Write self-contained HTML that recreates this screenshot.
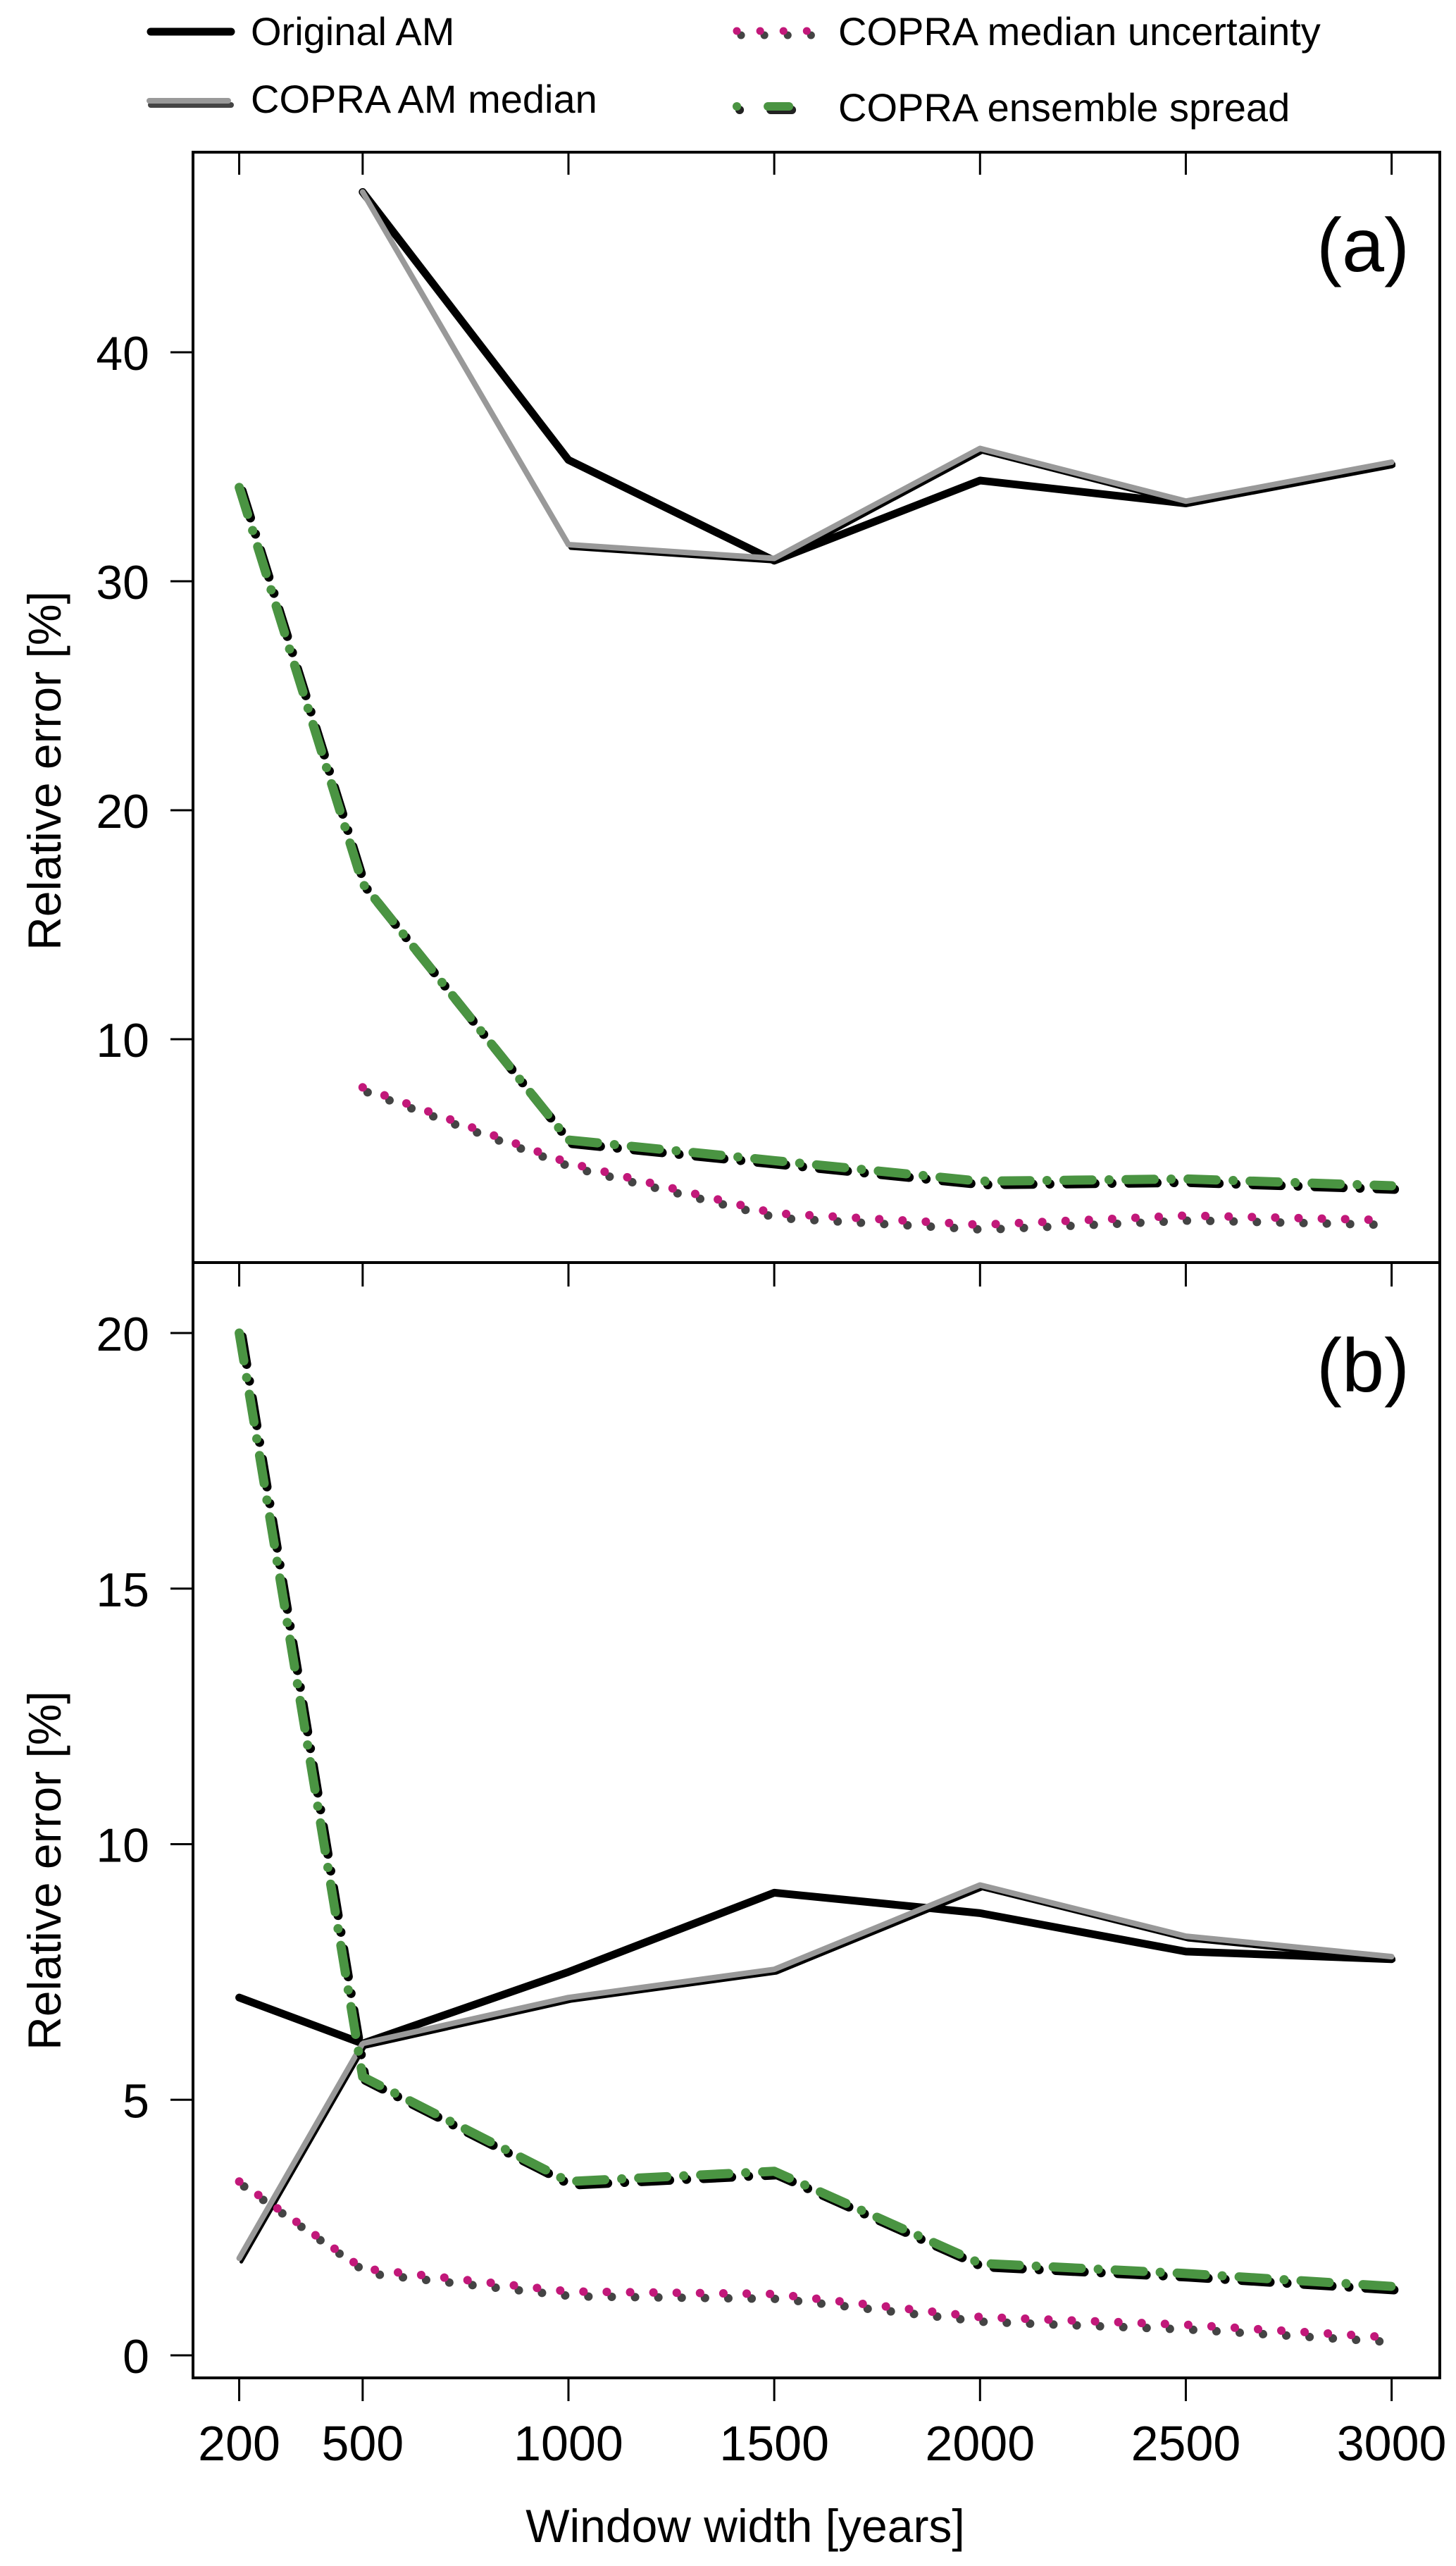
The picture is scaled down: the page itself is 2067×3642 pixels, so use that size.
<!DOCTYPE html>
<html><head><meta charset="utf-8"><style>
html,body{margin:0;padding:0;background:#fff;}
svg{display:block;font-family:"Liberation Sans",sans-serif;}
</style></head><body>
<svg id="chart" width="2067" height="3642" viewBox="0 0 2067 3642" xmlns="http://www.w3.org/2000/svg">
<g id="legend">
  <g>
    <line x1="214" y1="45" x2="328" y2="45" stroke="#000" stroke-width="11" stroke-linecap="round"/>
    <text x="356" y="64" font-size="56">Original AM</text>
  </g>
  <g>
    <line x1="214" y1="149" x2="328" y2="149" stroke="#444" stroke-width="8" stroke-linecap="round"/>
    <line x1="212" y1="143" x2="324" y2="143" stroke="#999" stroke-width="8" stroke-linecap="round"/>
    <text x="356" y="160" font-size="56">COPRA AM median</text>
  </g>
  <g>
    <line x1="1052" y1="50" x2="1165" y2="50" stroke="#444" stroke-width="11" stroke-linecap="round" stroke-dasharray="0.1 33"/>
    <line x1="1046" y1="44" x2="1160" y2="44" stroke="#c2187a" stroke-width="11" stroke-linecap="round" stroke-dasharray="0.1 33"/>
    <text x="1190" y="64" font-size="56">COPRA median uncertainty</text>
  </g>
  <g>
    <line x1="1050" y1="156" x2="1136" y2="156" stroke="#222" stroke-width="12" stroke-linecap="round" stroke-dasharray="0.1 44 30 200"/>
    <line x1="1046" y1="151" x2="1132" y2="151" stroke="#4a9442" stroke-width="12" stroke-linecap="round" stroke-dasharray="0.1 44 30 200"/>
    <text x="1190" y="172" font-size="56">COPRA ensemble spread</text>
  </g>
</g>
<g id="plots"></g>
</svg>
<script>
const xCats = [200, 500, 1000, 1500, 2000, 2500, 3000];
const xTickLabels = ["200","500","1000","1500","2000","2500","3000"];
// Panel (a)
const aOrigX = [500, 1000, 1500, 2000, 2500, 3000];
const aOrig = [47.0, 35.3, 30.9, 34.4, 33.4, 35.1];
const aMedX = [500, 1000, 1500, 2000, 2500, 3000];
const aMed = [47.0, 31.6, 31.0, 35.8, 33.5, 35.2];
const aUncX = [500, 1000, 1500, 2000, 2500, 3000];
const aUnc = [7.9, 4.6, 2.4, 1.9, 2.3, 2.1];
const aSprX = [200, 500, 1000, 1500, 2000, 2500, 3000];
const aSpr = [34.1, 16.8, 5.6, 4.7, 3.8, 3.9, 3.6];
const aYTicks = [10, 20, 30, 40];
// Panel (b)
const bOrig = [7.0, 6.1, 7.5, 9.05, 8.65, 7.9, 7.75];
const bMed = [1.9, 6.1, 7.0, 7.55, 9.2, 8.2, 7.8];
const bUnc = [3.4, 1.7, 1.25, 1.2, 0.75, 0.6, 0.35];
const bSpr = [20.0, 5.45, 3.4, 3.6, 1.8, 1.6, 1.35];
const bYTicks = [0, 5, 10, 15, 20];

const NS = "http://www.w3.org/2000/svg";
const root = document.getElementById('plots');
function mk(tag, attrs, parent){ const e=document.createElementNS(NS,tag); for(const k in attrs) e.setAttribute(k,attrs[k]); (parent||root).appendChild(e); return e; }
const xScale = v => 807 + (v - 1000) * 0.5843;
const X0 = 274, X1 = 2044;

function panel(opts){
  const g = mk('g', {});
  
  
  const y = opts.y;
  const fr = mk('rect', {x:X0, y:opts.top, width:X1-X0, height:opts.bottom-opts.top, fill:'none', stroke:'#000', 'stroke-width':4}, g);
  
  
  opts.yTicks.forEach(t => {
    const yy = y(t);
    const tk = mk('line', {x1:X0-32, y1:yy, x2:X0, y2:yy, stroke:'#000', 'stroke-width':3}, g);
    
    
    const tl = mk('text', {x:212, y:yy+25, 'font-size':68, 'text-anchor':'end'}, g);
    tl.textContent = String(t);
    
    
  });
  xCats.forEach(c => {
    const tk = mk('line', {x1:xScale(c), y1:opts.xtick[0], x2:xScale(c), y2:opts.xtick[1], stroke:'#000', 'stroke-width':3}, g);
    
    
  });
  const yt = mk('text', {x:0, y:0, 'font-size':66, 'text-anchor':'middle', transform:`translate(86 ${opts.titleY}) rotate(-90)`}, g);
  yt.textContent = 'Relative error  [%]';
  
  
  const pl = mk('text', {x:1935, y:opts.labelY, 'font-size':108, 'text-anchor':'middle'}, g);
  pl.textContent = opts.label;
  
  
  opts.series.forEach(s => {
    const pts = s.xs.map((c,i) => [xScale(c), y(s.ys[i])]);
    const d = (dx,dy) => pts.map(p => (p[0]+dx).toFixed(1)+','+(p[1]+dy).toFixed(1)).join(' ');
    const sg = mk('g', {}, g);
    
    
    if (s.shadow) mk('polyline', {points:d(s.shadow.dx, s.shadow.dy), fill:'none', stroke:s.shadow.color, 'stroke-width':s.shadow.w, 'stroke-linejoin':'round', 'stroke-linecap':'round', 'stroke-dasharray':s.dash||'none'}, sg);
    mk('polyline', {points:d(0,0), fill:'none', stroke:s.color, 'stroke-width':s.w, 'stroke-linejoin':'round', 'stroke-linecap':'round', 'stroke-dasharray':s.dash||'none'}, sg);
  });
}

const seriesStyles = (oX, o, mX, m, uX, u, sX, s, pfx) => [
  {name:pfx+'-original-am', xs:oX, ys:o, color:'#000', w:11},
  {name:pfx+'-copra-am-median', xs:mX, ys:m, color:'#999', w:8, shadow:{dx:3,dy:5,color:'#000',w:5}},
  {name:pfx+'-copra-ensemble-spread', xs:sX, ys:s, color:'#4a9442', w:13, dash:'40 24 0.1 24', shadow:{dx:4,dy:5,color:'#000',w:13}},
  {name:pfx+'-copra-median-uncertainty', xs:uX, ys:u, color:'#c2187a', w:12, dash:'0.1 33', shadow:{dx:7,dy:7,color:'#444',w:12}}
];

panel({name:'panel-a', top:216, bottom:1792, y: v => 500 + (40 - v) * 32.5, yTicks:aYTicks,
  xtick:[216,248], titleY:1094, label:'(a)', labelY:385,
  series: seriesStyles(aOrigX, aOrig, aMedX, aMed, aUncX, aUnc, aSprX, aSpr, 'a')});
panel({name:'panel-b', top:1792, bottom:3375, y: v => 3343 - v * 72.55, yTicks:bYTicks,
  xtick:[1792,1826], titleY:2655, label:'(b)', labelY:1975,
  series: seriesStyles(xCats, bOrig, xCats, bMed, xCats, bUnc, xCats, bSpr, 'b')});

const xa = mk('g', {});


xCats.forEach((c,i) => {
  const tk = mk('line', {x1:xScale(c), y1:3375, x2:xScale(c), y2:3408, stroke:'#000', 'stroke-width':3}, xa);
  
  
  const tl = mk('text', {x:xScale(c), y:3492, 'font-size':70, 'text-anchor':'middle'}, xa);
  tl.textContent = xTickLabels[i];
  
  
});
const xt = mk('text', {x:1058, y:3608, 'font-size':66, 'text-anchor':'middle'}, xa);
xt.textContent = 'Window width [years]';


</script>
</body></html>
